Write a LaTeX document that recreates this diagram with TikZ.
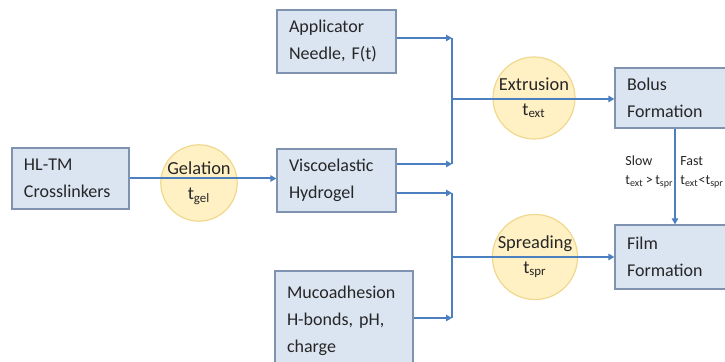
\documentclass[tikz,border=0pt]{standalone}
\usepackage{fontspec}
\setmainfont{Carlito}
\usetikzlibrary{arrows.meta}

\definecolor{boxfill}{HTML}{DBE5F2}
\definecolor{boxline}{HTML}{7F93B0}
\definecolor{arrowblue}{HTML}{4C7FBF}
\definecolor{circfill}{HTML}{FFF1C4}
\definecolor{circline}{HTML}{F0D88E}
\definecolor{inktext}{HTML}{262626}

\tikzset{
    procbox/.style={draw=boxline, fill=boxfill, line width=0.6pt, align=left, text=inktext,
        inner xsep=6pt, inner ysep=0pt, font=\fontsize{9}{13.5}\selectfont},
    stagecirc/.style={circle, draw=circline, fill=circfill, line width=0.6pt, text=inktext,
        inner sep=0pt, align=center, font=\fontsize{9.2}{12.5}\selectfont},
    ratelbl/.style={align=left, inner sep=0pt, anchor=west, text=inktext,
        font=\fontsize{7}{9.5}\selectfont},
    flow/.style={draw=arrowblue, line width=1pt, -{Triangle[length=3pt,width=3.2pt]}},
    link/.style={draw=arrowblue, line width=1pt}
}

\begin{document}
\begin{tikzpicture}[x=0.5pt, y=-0.5pt]

\useasboundingbox (0,0) rectangle (725,362);
\clip (0,0) rectangle (725,362);

% Stages (behind the arrows)
\node[stagecirc, minimum size=37.5pt] (gel) at (199,183) {Gelation\\t\textsubscript{gel}};
\node[stagecirc, minimum size=41pt] (ext) at (534,98) {Extrusion\\t\textsubscript{ext}};
\node[stagecirc, minimum size=41pt] (spr) at (535,257) {Spreading\\t\textsubscript{spr}};

% Boxes
\node[procbox, text width=46.5pt, minimum height=30.5pt] (cross) at (70.5,178.5) {HL-TM\\Crosslinkers};
\node[procbox, text width=47.5pt, minimum height=31.5pt] (needle) at (336.5,41.5) {Applicator\\Needle, F(t)};
\node[procbox, text width=47.5pt, minimum height=31.5pt] (hydro) at (336.5,180.5) {Viscoelastic\\Hydrogel};
\node[procbox, text width=57pt, minimum height=50pt] (muco) at (344,321) {Mucoadhesion\\H-bonds, pH,\\charge};
\node[procbox, text width=48pt, minimum height=30pt] (bolus) at (675,98) {Bolus\\Formation};
\node[procbox, text width=48pt, minimum height=32pt] (film) at (675,257) {Film\\Formation};

% Junctions
\coordinate (jup) at (452,38);
\coordinate (jupmid) at (452,99);
\coordinate (jlow) at (452,164);
\coordinate (jdn) at (452,193);
\coordinate (jdnmid) at (452,257);
\coordinate (jbot) at (452,318);

% Connectors
\draw[flow] (cross.east) -- (cross.east -| hydro.west);
\draw[flow] (needle.east |- jup) -- (jup);
\draw[flow] (hydro.east |- jlow) -- (jlow);
\draw[link] (jup) -- (jlow);
\draw[flow] (jupmid) -- (bolus.west |- jupmid);
\draw[flow] (hydro.east |- jdn) -- (jdn);
\draw[flow] (muco.east |- jbot) -- (jbot);
\draw[link] (jdn) -- (jbot);
\draw[flow] (jdnmid) -- (film.west |- jdnmid);
\draw[flow] (bolus.south) -- (film.north);

% Rate labels
\node[ratelbl] (slowlbl) at (625,172) {Slow\\t\textsubscript{ext}\,>\,t\textsubscript{spr}};
\node[ratelbl] (fastlbl) at (680,172) {Fast\\t\textsubscript{ext}<t\textsubscript{spr}};

\end{tikzpicture}
\end{document}
